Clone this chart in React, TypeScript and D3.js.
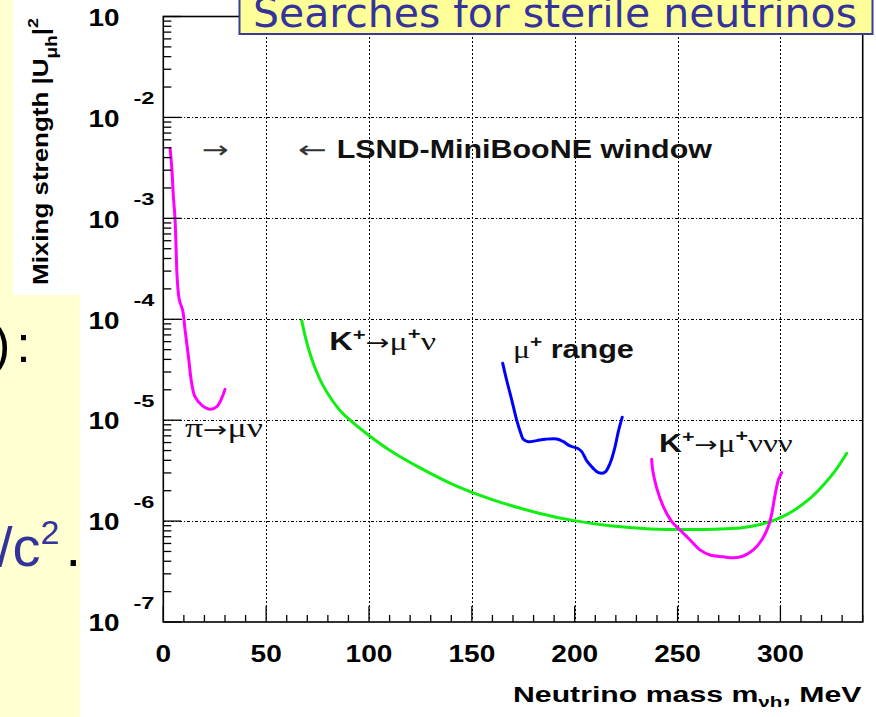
import React, { useEffect, useLayoutEffect, useRef, useState } from 'react';
import * as d3 from 'd3';

const W = 876;
const H = 717;

// Upper limits on |U_mu h|^2 versus heavy neutrino mass (MeV)
const pionMass = [3.3, 4.2, 4.9, 5.7, 6.2, 6.8, 7.8, 9.4, 10.6, 12.2, 13.8, 15.4, 18.7, 22.7, 26.0, 28.4, 30.0];
const pionU = [4.95e-3, 3.0e-3, 1.64e-3, 1.0e-3, 5.2e-4, 2.45e-4, 1.55e-4, 1.23e-4, 7.8e-5, 4.3e-5, 2.32e-5, 1.71e-5, 1.41e-5, 1.28e-5, 1.36e-5, 1.65e-5, 2.02e-5];

const kmunuMass = [67.3, 68.9, 71.3, 74.2, 77.6, 81.5, 85.9, 90.8, 100.0, 110.2, 126.4, 142.6, 158.8, 183.1, 199.8, 217.1, 236.6, 256.0, 280.4, 290.1, 299.8, 307.1, 314.4, 320.7, 326.6, 332.2];
const kmunuU = [9.68e-5, 6.88e-5, 4.57e-5, 3.12e-5, 2.21e-5, 1.64e-5, 1.25e-5, 1.0e-5, 7.05e-6, 5.01e-6, 3.24e-6, 2.22e-6, 1.66e-6, 1.19e-6, 1.01e-6, 8.97e-7, 8.36e-7, 8.24e-7, 8.56e-7, 9.25e-7, 1.079e-6, 1.297e-6, 1.675e-6, 2.25e-6, 3.14e-6, 4.7e-6];

const muRangeMass = [165.0, 166.9, 169.4, 171.8, 173.8, 175.0, 177.4, 181.5, 185.6, 191.3, 194.5, 197.7, 201.3, 203.4, 205.8, 209.0, 211.5, 214.7, 217.2, 219.6, 221.2, 223.1];
const muRangeU = [3.66e-5, 2.5e-5, 1.58e-5, 1.0e-5, 7.4e-6, 6.47e-6, 6.12e-6, 6.27e-6, 6.47e-6, 6.52e-6, 6.12e-6, 5.55e-6, 5.27e-6, 4.88e-6, 3.97e-6, 3.33e-6, 3.02e-6, 3.05e-6, 3.74e-6, 5.45e-6, 7.69e-6, 1.07e-5];

const k3nuMass = [237.4, 237.9, 239.9, 243.1, 247.2, 251.2, 256.1, 260.9, 265.8, 272.2, 277.1, 282.0, 286.8, 290.9, 294.1, 295.8, 297.4, 299.0, 300.6];
const k3nuU = [4.1e-6, 3.2e-6, 2.11e-6, 1.39e-6, 9.87e-7, 8.17e-7, 6.5e-7, 5.18e-7, 4.61e-7, 4.43e-7, 4.33e-7, 4.51e-7, 5.18e-7, 6.5e-7, 8.81e-7, 1.19e-6, 1.82e-6, 2.55e-6, 3.02e-6];

// Axis ticks
const xMajorTicks = [0, 50, 100, 150, 200, 250, 300];
const xTickLabels = ['0', '50', '100', '150', '200', '250', '300'];
const yDecades = [1e-1, 1e-2, 1e-3, 1e-4, 1e-5, 1e-6, 1e-7];
const yExponents = ['', '-2', '-3', '-4', '-5', '-6', '-7'];

const SANS = '"Liberation Sans", Arial, Helvetica, sans-serif';
const SERIF = '"Liberation Serif", "DejaVu Serif", "Times New Roman", serif';
const ARROW = '"DejaVu Sans", sans-serif';

// Text laid out naturally, then stretched along its baseline to a given width.
function FitText({
  x,
  y,
  width,
  pre = '',
  children,
  ...rest
}: {
  x: number;
  y: number;
  width: number;
  pre?: string;
  children: React.ReactNode;
  [k: string]: any;
}) {
  const ref = useRef<SVGTextElement>(null);
  const [s, setS] = useState(1);
  useLayoutEffect(() => {
    if (ref.current) {
      const w = ref.current.getBBox().width;
      if (w > 0) setS(width / w);
    }
  }, [width]);
  return (
    <g transform={`translate(${x},${y}) ${pre} scale(${s},1)`}>
      <text ref={ref} x={0} y={0} {...rest}>
        {children}
      </text>
    </g>
  );
}

const bold = { fontFamily: SANS, fontWeight: 'bold' as const };

export default function App() {
  useEffect(() => {
    document.body.style.margin = '0';
  }, []);

  const x = d3.scaleLinear().domain([0, 340]).range([163.3, 862.7]);
  const y = d3.scaleLog().domain([1e-7, 1e-1]).range([622, 16.5]);
  const [x0, x1] = x.range();
  const [y0, y1] = y.range();
  const px = (v: number) => Math.round(v) + 0.5;

  const line = d3
    .line<[number, number]>()
    .x((d) => x(d[0]))
    .y((d) => y(d[1]))
    .curve(d3.curveCatmullRom.alpha(0.5));

  const zip = (a: number[], b: number[]) => a.map((v, i) => [v, b[i]] as [number, number]);

  const curves = [
    { id: 'pion', pts: zip(pionMass, pionU), color: '#ff00ff' },
    { id: 'kmunu', pts: zip(kmunuMass, kmunuU), color: '#11ee11' },
    { id: 'murange', pts: zip(muRangeMass, muRangeU), color: '#0000ff' },
    { id: 'k3nu', pts: zip(k3nuMass, k3nuU), color: '#ff00ff' },
  ];

  const xMinor = d3.range(10, 341, 10).filter((v) => v % 50 !== 0);
  const yMinor: number[] = [];
  for (let k = -7; k <= -2; k++) {
    for (let m = 2; m <= 9; m++) yMinor.push(m * Math.pow(10, k));
  }

  return (
    <svg
      width={W}
      height={H}
      viewBox={`0 0 ${W} ${H}`}
      style={{ position: 'absolute', left: 0, top: 0, display: 'block', background: '#fff' }}
    >
      <rect x={0} y={0} width={W} height={H} fill="#fff" />

      {/* slide panel on the left */}
      <rect x={0} y={0} width={80} height={H} fill="#ffffd2" />
      <rect x={13} y={0} width={67} height={295} fill="#fff" />
      <text x={-7} y={362} fontFamily={SANS} fontSize={52} fill="#000">
        )<tspan dx={6}>:</tspan>
      </text>
      <text x={-3} y={566} fontFamily={SANS} fontSize={56} fill="#333399">
        /c<tspan fontSize={34} dy={-22}>2</tspan>
        <tspan fill="#000" dx={6} dy={22}>.</tspan>
      </text>

      {/* grid */}
      <g stroke="#000" strokeWidth={1} fill="none" shapeRendering="crispEdges">
        {xMajorTicks.slice(1).map((t) => (
          <line key={`gx${t}`} x1={px(x(t))} x2={px(x(t))} y1={y1} y2={y0} strokeDasharray="2,2" />
        ))}
        {yDecades.slice(1, -1).map((t) => (
          <line key={`gy${t}`} x1={x0} x2={x1} y1={px(y(t))} y2={px(y(t))} strokeDasharray="3,2,1,2" />
        ))}
      </g>

      {/* limit curves */}
      {curves.map((c) => (
        <path
          key={c.id}
          d={line(c.pts) || ''}
          fill="none"
          stroke={c.color}
          strokeWidth={3}
          strokeLinejoin="round"
          strokeLinecap="round"
        />
      ))}

      {/* frame and ticks */}
      <rect x={x0} y={y1} width={x1 - x0} height={y0 - y1} fill="none" stroke="#000" strokeWidth={1.6} />
      <g stroke="#000" strokeWidth={1.3}>
        {xMajorTicks.map((t) => (
          <line key={`tx${t}`} x1={x(t)} x2={x(t)} y1={y0} y2={y0 - 16} />
        ))}
        {xMinor.map((t) => (
          <line key={`mx${t}`} x1={x(t)} x2={x(t)} y1={y0} y2={y0 - 7} />
        ))}
        {yDecades.map((t) => (
          <line key={`ty${t}`} x1={x0} x2={x0 + 18} y1={y(t)} y2={y(t)} />
        ))}
        {yMinor.map((t) => (
          <line key={`my${t}`} x1={x0} x2={x0 + 8} y1={y(t)} y2={y(t)} />
        ))}
      </g>

      {/* x tick labels */}
      <g fontFamily={SANS} fontWeight="bold" fontSize={23} fill="#000" textAnchor="middle">
        {xMajorTicks.map((t, i) => (
          <text
            key={`lx${t}`}
            x={x(t)}
            y={662}
            textLength={xTickLabels[i].length * 15.6}
            lengthAdjust="spacingAndGlyphs"
          >
            {xTickLabels[i]}
          </text>
        ))}
      </g>

      {/* y tick labels */}
      <g fontFamily={SANS} fontWeight="bold" fill="#000">
        {yDecades.map((t, i) => (
          <g key={`ly${t}`}>
            <text x={88.5} y={y(t) + 9.3} fontSize={23} textLength={31} lengthAdjust="spacingAndGlyphs">
              10
            </text>
            {yExponents[i] && (
              <text x={133.5} y={y(t) - 13.5} fontSize={16} textLength={21} lengthAdjust="spacingAndGlyphs">
                {yExponents[i]}
              </text>
            )}
          </g>
        ))}
      </g>

      {/* axis titles */}
      <FitText x={513} y={702} width={349} fontFamily={SANS} fontWeight="bold" fontSize={22} fill="#000">
        Neutrino mass m
        <tspan fontSize={15} dy={5}>
          νh
        </tspan>
        <tspan dy={-5}>, MeV</tspan>
      </FitText>
      <FitText
        x={48}
        y={285}
        pre="rotate(-90)"
        width={267}
        fontFamily={SANS}
        fontWeight="bold"
        fontSize={22}
        fill="#000"
      >
        Mixing strength |U
        <tspan fontSize={16} dy={9}>
          μh
        </tspan>
        <tspan dy={-9}>|</tspan>
        <tspan fontSize={15} dy={-10}>
          2
        </tspan>
      </FitText>

      {/* curve annotations */}
      <g fill="#111">
        <FitText x={x(18.7)} y={y(3.97e-3)} width={27} fontFamily={ARROW} fontSize={24} fill="#333">
          →
        </FitText>
        <FitText x={x(65.5)} y={y(3.97e-3)} width={29} fontFamily={ARROW} fontSize={24} fill="#333">
          ←
        </FitText>
        <FitText x={x(84.3)} y={y(3.97e-3)} width={376} {...bold} fontSize={25}>
          LSND-MiniBooNE window
        </FitText>

        <FitText x={x(80.7)} y={y(4.97e-5)} width={107}>
          <tspan {...bold} fontSize={25}>K</tspan>
          <tspan {...bold} fontSize={17} dy={-10}>+</tspan>
          <tspan fontFamily={ARROW} fontSize={22} dy={10}>→</tspan>
          <tspan fontFamily={SERIF} fontSize={26}>μ</tspan>
          <tspan {...bold} fontSize={17} dy={-11}>+</tspan>
          <tspan fontFamily={SERIF} fontSize={26} dy={11}>ν</tspan>
        </FitText>

        <FitText x={x(170)} y={y(4.13e-5)} width={121}>
          <tspan fontFamily={SERIF} fontSize={26}>μ</tspan>
          <tspan {...bold} fontSize={17} dy={-11}>+</tspan>
          <tspan {...bold} fontSize={25} dy={11}> range</tspan>
        </FitText>

        <FitText x={x(10.5)} y={y(6.82e-6)} width={78}>
          <tspan fontFamily={SERIF} fontSize={27}>π</tspan>
          <tspan fontFamily={ARROW} fontSize={22}>→</tspan>
          <tspan fontFamily={SERIF} fontSize={27}>μν</tspan>
        </FitText>

        <FitText x={x(241)} y={y(4.88e-6)} width={134}>
          <tspan {...bold} fontSize={25}>K</tspan>
          <tspan {...bold} fontSize={17} dy={-10}>+</tspan>
          <tspan fontFamily={ARROW} fontSize={22} dy={10}>→</tspan>
          <tspan fontFamily={SERIF} fontSize={26}>μ</tspan>
          <tspan {...bold} fontSize={17} dy={-11}>+</tspan>
          <tspan fontFamily={SERIF} fontSize={26} dy={11}>ννν</tspan>
        </FitText>
      </g>

      {/* slide title box */}
      <rect x={239.5} y={-10} width={633} height={44} fill="#ffff99" stroke="#3a3a99" strokeWidth={2} />
      <text
        x={253}
        y={27}
        fontFamily={'"DejaVu Sans", sans-serif'}
        fontSize={41}
        fill="#333399"
        textLength={604}
        lengthAdjust="spacingAndGlyphs"
      >
        Searches for sterile neutrinos
      </text>
    </svg>
  );
}
